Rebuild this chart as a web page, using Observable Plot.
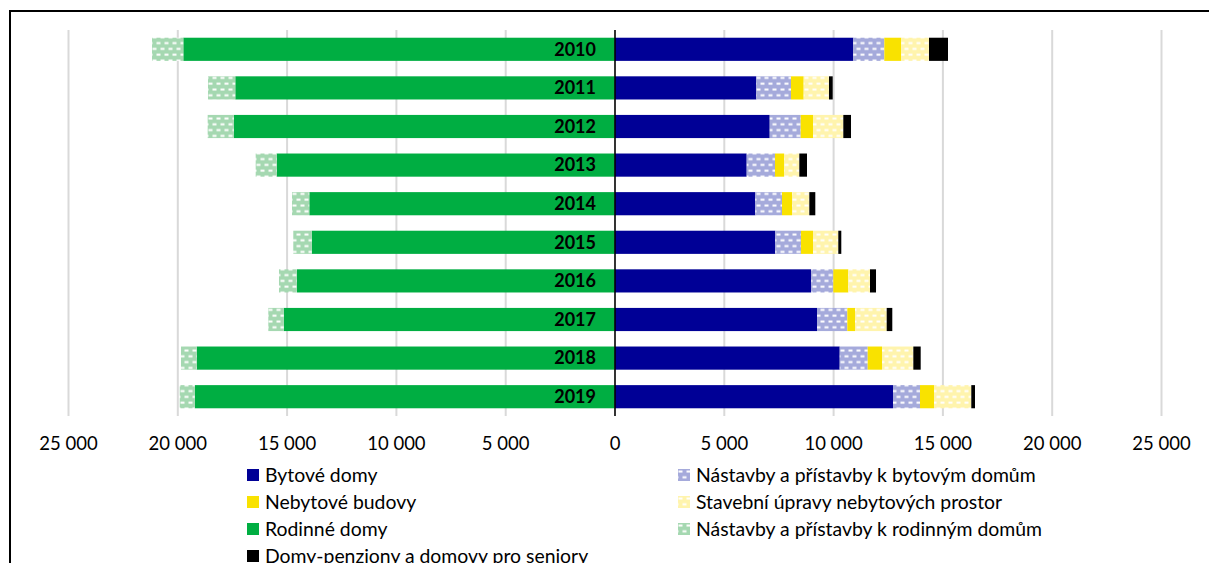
<!DOCTYPE html>
<html>
<head>
<meta charset="utf-8">
<script src="https://cdn.jsdelivr.net/npm/d3@7"></script>
<script src="https://cdn.jsdelivr.net/npm/@observablehq/plot@0.6"></script>
<style>
  html, body { margin: 0; padding: 0; background: #fff; overflow: hidden; width: 1209px; height: 563px; }
  #frame { position: absolute; left: 9px; top: 10px; width: 1400px; height: 800px; border-left: 2px solid #000; border-top: 2px solid #000; }
  #chart { position: absolute; left: 0; top: 0; }
  .leg { position: absolute; font-family: Lato, sans-serif; font-size: 19.4px; color: #000; white-space: nowrap; line-height: 27px; }
  .leg svg { vertical-align: middle; margin-right: 6px; position: relative; top: -2px; }
</style>
</head>
<body>
<div id="frame"></div>
<div id="chart"></div>
<div id="legend"></div>
<script>
// ---- data ----
const years = ["2010","2011","2012","2013","2014","2015","2016","2017","2018","2019"];
const bytoveDomy      = [10924, 6488, 7100, 6047, 6441, 7356, 9003, 9264, 10302, 12740];
const nastavbyBytove  = [1419, 1586, 1418, 1295, 1221, 1176, 1006, 1386, 1281, 1235];
const nebytoveBudovy  = [777, 580, 563, 412, 458, 549, 687, 352, 654, 641];
const stavebniUpravy  = [1267, 1158, 1386, 700, 792, 1157, 992, 1450, 1433, 1706];
const domyPenziony    = [869, 170, 352, 352, 274, 137, 275, 256, 337, 169];
const rodinneDomy     = [19725, 17347, 17420, 15453, 13962, 13852, 14538, 15133, 19113, 19204];
const nastavbyRodinne = [1432, 1249, 1190, 961, 791, 842, 810, 704, 718, 686];
const axisTicks = [-25000, -20000, -15000, -10000, -5000, 0, 5000, 10000, 15000, 20000, 25000];

const seriesNames = [
  "Bytové domy",
  "Nástavby a přístavby k bytovým domům",
  "Nebytové budovy",
  "Stavební úpravy nebytových prostor",
  "Domy-penziony a domovy pro seniory",
  "Rodinné domy",
  "Nástavby a přístavby k rodinným domům"
];
const seriesValues = [bytoveDomy, nastavbyBytove, nebytoveBudovy, stavebniUpravy, domyPenziony, rodinneDomy, nastavbyRodinne];
const seriesSign = [1, 1, 1, 1, 1, -1, -1];
const seriesFill = ["#000096", "url(#patBlue)", "#f9e200", "url(#patYellow)", "#000000", "#00ae42", "url(#patGreen)"];
const legendOrder = [0, 1, 2, 3, 5, 6, 4];

const rows = [];
seriesNames.forEach((name, s) => {
  years.forEach((yr, i) => rows.push({ year: yr, series: name, value: seriesSign[s] * seriesValues[s][i] }));
});

const fmt = d => d3.format(",")(Math.abs(d)).replace(/,/g, " ");

const plot = Plot.plot({
  width: 1209,
  height: 460,
  marginLeft: 68,
  marginRight: 48,
  marginTop: 30,
  marginBottom: 44,
  style: { fontFamily: "Lato, sans-serif", background: "transparent" },
  x: { domain: [-25000, 25000], axis: null },
  y: { domain: years, paddingInner: 0.4, paddingOuter: 0.2, round: false, axis: null },
  color: { domain: seriesNames, range: seriesFill },
  marks: [
    Plot.ruleX(axisTicks.filter(d => d !== 0), { stroke: "#d9d9d9", strokeWidth: 2 }),
    Plot.barX(rows, Plot.stackX({ x: "value", y: "year", fill: "series", order: seriesNames })),
    Plot.ruleX([0], { stroke: "#000", strokeWidth: 1.6 }),
    Plot.text(years, { x: () => 0, y: d => d, text: d => d, textAnchor: "end", dx: -19, fontWeight: "bold", fontSize: 18, fill: "#000" }),
    Plot.axisX({ ticks: axisTicks, tickSize: 0, tickPadding: 20, tickFormat: fmt, fontSize: 18.5, anchor: "bottom", color: "#000", label: null })
  ]
});

// patterns
const defs = d3.select(plot).insert("defs", ":first-child");
function addPattern(id, bg) {
  const p = defs.append("pattern").attr("id", id).attr("patternUnits", "userSpaceOnUse")
    .attr("width", 8).attr("height", 11.6);
  p.append("rect").attr("width", 8).attr("height", 11.6).attr("fill", bg);
  p.append("rect").attr("x", 0.5).attr("y", 1.5).attr("width", 4).attr("height", 2).attr("fill", "#fff");
  p.append("rect").attr("x", 4.5).attr("y", 7.3).attr("width", 3.5).attr("height", 2).attr("fill", "#fff");
  p.append("rect").attr("x", 0).attr("y", 7.3).attr("width", 0.5).attr("height", 2).attr("fill", "#fff");
}
addPattern("patBlue", "#a5aadb");
addPattern("patYellow", "#fff4ad");
addPattern("patGreen", "#a5d8b1");

document.getElementById("chart").appendChild(plot);

// legend
const legend = document.getElementById("legend");
legendOrder.forEach((s, k) => {
  const col = k % 2, row = Math.floor(k / 2);
  const div = document.createElement("div");
  div.className = "leg";
  div.style.left = (col === 0 ? 247 : 678) + "px";
  div.style.top = (461 + row * 27) + "px";
  div.innerHTML = `<svg width="12" height="12"><rect width="12" height="12" fill="${seriesFill[s]}"></rect></svg>`;
  div.appendChild(document.createTextNode(seriesNames[s]));
  legend.appendChild(div);
});
</script>
</body>
</html>
